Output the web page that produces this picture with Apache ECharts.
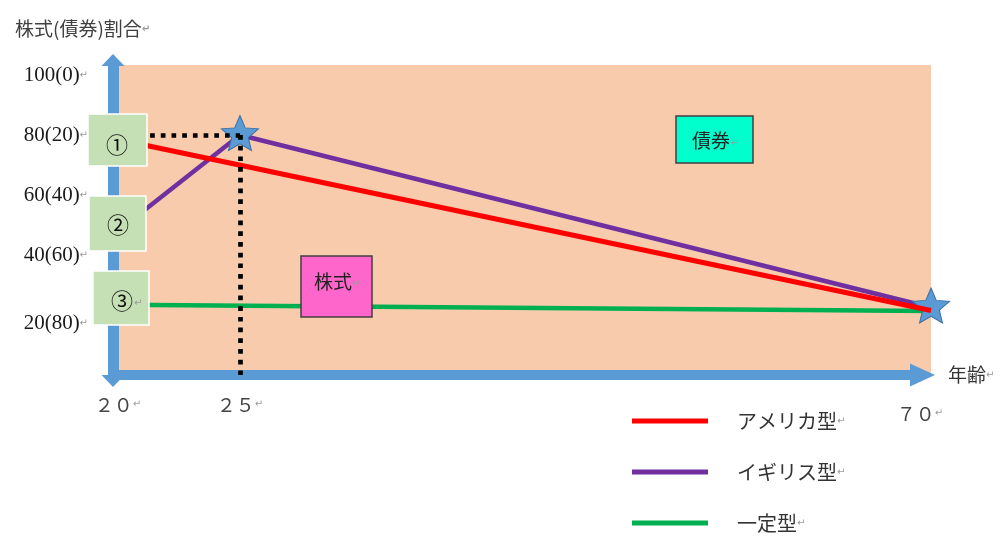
<!DOCTYPE html>
<html>
<head>
<meta charset="utf-8">
<script src="https://cdn.jsdelivr.net/npm/echarts@6/dist/echarts.min.js"></script>
<style>
  html, body { margin: 0; padding: 0; background: #fff; }
  #chart { width: 1001px; height: 536px; }
</style>
</head>
<body>
<div id="chart"></div>
<script>
// Ages on the (schematic, not to scale) age axis and where each one sits on it
const ages = ['２０', '２５', '７０'];
const agePos = [0, 15, 100];

// Stock share (bond share) tick labels
const yTicks = [100, 80, 60, 40, 20];
const yLabels = ['100(0)', '80(20)', '60(40)', '40(60)', '20(80)'];

// Stock share (%) at each age; null = no turning point at that age
const seriesNames = ['アメリカ型', 'イギリス型', '一定型'];
const american = [78.5, null, 21.5];
const british = [48, 80, 22.5];
const constant = [23.4, null, 21.3];

const BLUE = '#5B9BD5';
const CJK = '"Noto Sans CJK JP", "Noto Sans", sans-serif';
const STAR = 'path://M0,-1 L0.27,-0.36 L0.951,-0.309 L0.43,0.14 L0.588,0.809 L0,0.46 L-0.588,0.809 L-0.43,0.14 L-0.951,-0.309 L-0.27,-0.36 Z';
const RET = { fontFamily: '"DejaVu Sans", sans-serif', fontSize: 10, color: '#9a9a9a' };

function pairs(values) {
  const out = [];
  values.forEach(function (v, i) { if (v !== null) out.push([agePos[i], v]); });
  return out;
}

const chart = echarts.init(document.getElementById('chart'), null, { renderer: 'canvas' });

const option = {
  animation: false,
  backgroundColor: '#ffffff',
  title: {
    text: '{t|株式(債券)割合}{r|↵}',
    left: 10,
    top: 13,
    textStyle: {
      rich: {
        t: { fontFamily: CJK, fontSize: 19, fontWeight: 'normal', color: '#404040', lineHeight: 22 },
        r: RET
      }
    }
  },
  legend: {
    data: seriesNames,
    orient: 'vertical',
    left: 632,
    top: 411,
    padding: 0,
    height: 140,
    itemWidth: 76,
    itemHeight: 5,
    itemGap: 31,
    icon: 'rect',
    selectedMode: false,
    formatter: function (name) { return '{n|' + name + '}{r|↵}'; },
    textStyle: {
      rich: {
        n: { fontFamily: CJK, fontSize: 20, color: '#333', lineHeight: 20, padding: [0, 0, 0, 24] },
        r: RET
      }
    }
  },
  grid: [
    { left: 118, right: 70, top: 65, bottom: 161, show: true, backgroundColor: '#F8CBAD', borderWidth: 0 },
    { left: 113, right: 91, top: 66, bottom: 161 }
  ],
  xAxis: [
    {
      gridIndex: 0, type: 'value', min: 0, max: 100,
      axisLine: { show: false }, axisTick: { show: false }, splitLine: { show: false },
      axisLabel: {
        customValues: agePos,
        margin: 20,
        formatter: function (v) {
          const i = agePos.indexOf(v);
          return i === ages.length - 1
            ? '{b|' + ages[i] + '}{rb|↵}'
            : '{a|' + ages[i] + '}{r|↵}';
        },
        rich: {
          a: { fontFamily: CJK, fontSize: 19, color: '#444' },
          b: { fontFamily: CJK, fontSize: 19, color: '#444', padding: [9, 0, 0, 0] },
          r: RET,
          rb: Object.assign({}, RET, { padding: [9, 22, 0, 0] })
        }
      }
    },
    {
      gridIndex: 1, type: 'value', min: 0, max: 1,
      axisLine: {
        show: true, onZero: false,
        symbol: ['none', 'triangle'], symbolSize: [23, 25], symbolOffset: [0, 12.5],
        lineStyle: { color: BLUE, width: 10, cap: 'butt' }
      },
      axisTick: { show: false }, axisLabel: { show: false }, splitLine: { show: false },
      name: '{n|年齢}{r|↵}',
      nameLocation: 'end',
      nameGap: 38,
      nameTextStyle: {
        rich: {
          n: { fontFamily: CJK, fontSize: 19, color: '#333' },
          r: RET
        }
      }
    }
  ],
  yAxis: [
    {
      gridIndex: 0, type: 'value', min: 0, max: 310 / 3,
      axisLine: { show: false }, axisTick: { show: false }, splitLine: { show: false },
      axisLabel: {
        customValues: yTicks,
        margin: 30,
        formatter: function (v) {
          const i = yTicks.indexOf(v);
          return i === yTicks.length - 1
            ? '{b|' + yLabels[i] + '}{rb|↵}'
            : '{a|' + yLabels[i] + '}{r|↵}';
        },
        rich: {
          a: { fontFamily: '"Liberation Serif", "DejaVu Serif", serif', fontSize: 21, color: '#1a1a1a' },
          b: { fontFamily: '"Liberation Serif", "DejaVu Serif", serif', fontSize: 21, color: '#1a1a1a', padding: [16, 0, 0, 0] },
          r: RET,
          rb: Object.assign({}, RET, { padding: [16, 0, 0, 0] })
        }
      }
    },
    {
      gridIndex: 1, type: 'value', min: 0, max: 1,
      axisLine: {
        show: true, onZero: false,
        symbol: ['triangle', 'triangle'], symbolSize: [23, 12], symbolOffset: [-6, 6],
        lineStyle: { color: BLUE, width: 11, cap: 'butt' }
      },
      axisTick: { show: false }, axisLabel: { show: false }, splitLine: { show: false }
    }
  ],
  series: [
    {
      name: seriesNames[2], type: 'line', xAxisIndex: 0, yAxisIndex: 0,
      data: pairs(constant),
      symbol: 'none',
      color: '#00B050',
      lineStyle: { color: '#00B050', width: 4.5 }
    },
    {
      name: seriesNames[1], type: 'line', xAxisIndex: 0, yAxisIndex: 0,
      data: pairs(british).map(function (p, i) {
        return i === 0
          ? { value: p, symbol: 'none' }
          : { value: p, symbol: STAR, itemStyle: { color: BLUE, borderColor: '#3A6FA5', borderWidth: 1 } };
      }),
      symbolSize: [37, 35],
      symbolOffset: [0, -2],
      showSymbol: true,
      color: '#7030A0',
      itemStyle: { color: '#7030A0' },
      lineStyle: { color: '#7030A0', width: 4.5 },
      markLine: {
        silent: true,
        symbol: ['none', 'none'],
        label: { show: false },
        lineStyle: { color: '#000', width: 4.7, type: [4.7, 6], cap: 'butt' },
        data: [
          [{ coord: [agePos[0], british[1]] }, { coord: [agePos[1], british[1]] }],
          [{ coord: [agePos[1], british[1]] }, { coord: [agePos[1], 0] }]
        ]
      },
      z: 3
    },
    {
      name: seriesNames[0], type: 'line', xAxisIndex: 0, yAxisIndex: 0,
      data: pairs(american),
      symbol: 'none',
      color: '#FF0000',
      lineStyle: { color: '#FF0000', width: 5 },
      z: 4
    }
  ],
  graphic: [
    // series tags ①②③
    { type: 'rect', z: 100, shape: { x: 88, y: 114, width: 59, height: 52 }, style: { fill: '#C5E0B4', stroke: '#ffffff', lineWidth: 1.5 } },
    { type: 'text', z: 101, x: 117, y: 145, style: { text: '①', font: '22px ' + CJK, fill: '#111', align: 'center', verticalAlign: 'middle' } },
    { type: 'rect', z: 100, shape: { x: 89, y: 196, width: 57, height: 55 }, style: { fill: '#C5E0B4', stroke: '#ffffff', lineWidth: 1.5 } },
    { type: 'text', z: 101, x: 118, y: 225, style: { text: '②', font: '22px ' + CJK, fill: '#111', align: 'center', verticalAlign: 'middle' } },
    { type: 'rect', z: 100, shape: { x: 93, y: 271, width: 56, height: 54 }, style: { fill: '#C5E0B4', stroke: '#ffffff', lineWidth: 1.5 } },
    { type: 'text', z: 101, x: 122, y: 301, style: { text: '③', font: '22px ' + CJK, fill: '#111', align: 'center', verticalAlign: 'middle' } },
    { type: 'text', z: 101, x: 134, y: 303, style: { text: '↵', font: '10px "DejaVu Sans"', fill: '#9a9a9a', verticalAlign: 'middle' } },
    // region tags
    { type: 'rect', z: 100, shape: { x: 301, y: 256, width: 71, height: 61 }, style: { fill: '#FF66CC', stroke: '#404040', lineWidth: 1.5 } },
    { type: 'text', z: 101, x: 314, y: 282, style: { text: '株式', font: '19px ' + CJK, fill: '#222', verticalAlign: 'middle' } },
    { type: 'text', z: 101, x: 352, y: 284, style: { text: '↵', font: '10px "DejaVu Sans"', fill: '#9a9a9a', verticalAlign: 'middle' } },
    { type: 'rect', z: 100, shape: { x: 676, y: 116, width: 77, height: 47 }, style: { fill: '#00FFCC', stroke: '#404040', lineWidth: 1.5 } },
    { type: 'text', z: 101, x: 692, y: 141, style: { text: '債券', font: '19px ' + CJK, fill: '#222', verticalAlign: 'middle' } },
    { type: 'text', z: 101, x: 731, y: 143, style: { text: '↵', font: '10px "DejaVu Sans"', fill: '#9a9a9a', verticalAlign: 'middle' } }
  ]
};

chart.setOption(option);
</script>
</body>
</html>
